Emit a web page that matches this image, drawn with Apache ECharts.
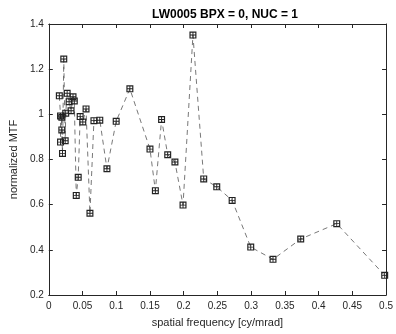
<!DOCTYPE html>
<html><head><meta charset="utf-8">
<script src="https://cdn.jsdelivr.net/npm/echarts@6/dist/echarts.min.js"></script>
<style>html,body{margin:0;padding:0;background:#fff}#c{width:396px;height:334px}</style>
</head><body><div id="c"></div>
<script>
const freq = [0.0156,0.0174,0.0174,0.0193,0.0193,0.0203,0.0222,0.0243,0.0251,0.0272,0.0301,0.0330,0.0359,0.0378,0.0407,0.0436,0.0465,0.0504,0.0552,0.0610,0.0669,0.0756,0.0862,0.0999,0.1202,0.1500,0.1580,0.1672,0.1763,0.1870,0.1990,0.2137,0.2297,0.2490,0.2718,0.2994,0.3324,0.3735,0.4269,0.4980];
const mtf  = [1.082,0.993,0.877,0.987,0.931,0.827,1.245,0.883,1.005,1.093,1.056,1.016,1.078,1.059,0.641,0.721,0.990,0.966,1.024,0.562,0.972,0.974,0.759,0.969,1.113,0.846,0.662,0.977,0.821,0.789,0.598,1.351,0.714,0.679,0.619,0.412,0.358,0.448,0.516,0.287];
const titleText = 'LW0005 BPX = 0, NUC = 1';
const xName = 'spatial frequency [cy/mrad]';
const yName = 'normalized MTF';

const axisColor = '#262626';
const font = 'Arial, "Liberation Sans", sans-serif';
const marker = 'path://M0,0H6V6H0Z M1,1V2.6H2.6V1Z M3.4,1V2.6H5V1Z M1,3.4V5H2.6V3.4Z M3.4,3.4V5H5V3.4Z';

const chart = echarts.init(document.getElementById('c'), null, {renderer:'canvas'});
const baseAxis = {
  axisLine:{show:true, onZero:false, lineStyle:{color:axisColor, width:1}},
  axisTick:{show:true, inside:true, length:4, lineStyle:{color:axisColor, width:1}},
  splitLine:{show:false}
};
chart.setOption({
  animation:false,
  backgroundColor:'#fff',
  title:{text:titleText, left:220, top:4, textAlign:'center',
    textStyle:{fontFamily:font, fontSize:12, fontWeight:'bold', color:'#000'}},
  grid:{left:44, right:8, top:24, bottom:39, containLabel:false},
  xAxis:[
    Object.assign({}, baseAxis, {type:'value', min:0, max:0.5, interval:0.05, position:'bottom',
      name:xName, nameLocation:'middle', nameGap:22,
      nameTextStyle:{fontFamily:font, fontSize:11, color:axisColor},
      axisLabel:{fontFamily:font, fontSize:10, color:axisColor, margin:6,
        formatter:v=>String(+v.toFixed(2))}}),
    Object.assign({}, baseAxis, {type:'value', min:0, max:0.5, interval:0.05, position:'top',
      axisLabel:{show:false}})
  ],
  yAxis:[
    Object.assign({}, baseAxis, {type:'value', min:0.2, max:1.4, interval:0.2, position:'left',
      name:yName, nameLocation:'middle', nameGap:22,
      nameTextStyle:{fontFamily:font, fontSize:11, color:axisColor},
      axisLabel:{fontFamily:font, fontSize:10, color:axisColor, margin:5,
        formatter:v=>String(+v.toFixed(1))}}),
    Object.assign({}, baseAxis, {type:'value', min:0.2, max:1.4, interval:0.2, position:'right',
      axisLabel:{show:false}})
  ],
  series:[{
    type:'line',
    data:freq.map((f,i)=>[f, mtf[i]]),
    symbol:marker, symbolSize:7, showAllSymbol:true,
    lineStyle:{color:'#555', width:0.8, type:[5,4]},
    itemStyle:{color:'#222', borderWidth:0},
    z:3
  }]
});
</script></body></html>
